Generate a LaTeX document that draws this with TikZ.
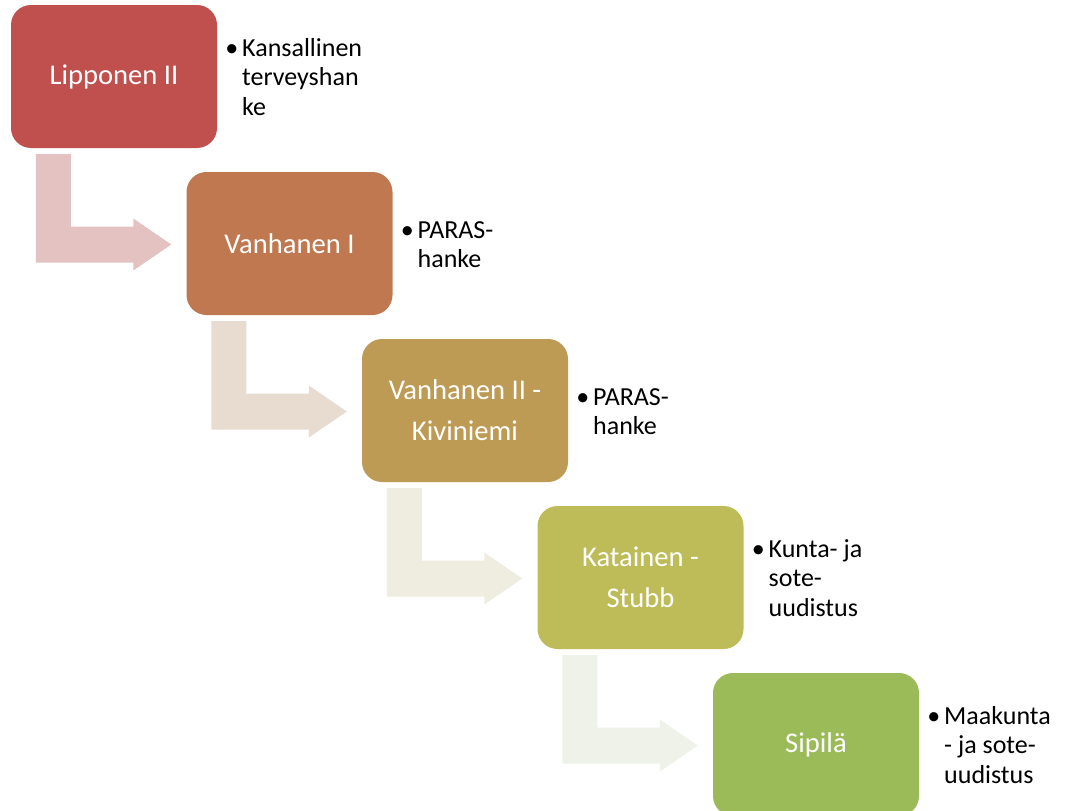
\documentclass[tikz,border=0pt]{standalone}
\usepackage{fontspec}
\setmainfont{Carlito}
\usetikzlibrary{calc}
\definecolor{c1}{HTML}{C0504D}
\definecolor{c2}{HTML}{BF7850}
\definecolor{c3}{HTML}{BE9B54}
\definecolor{c4}{HTML}{BDBC58}
\definecolor{c5}{HTML}{9BBB59}
\definecolor{a1}{HTML}{E4C2C2}
\definecolor{a2}{HTML}{E8DCD1}
\definecolor{a3}{HTML}{EEEDE0}
\definecolor{a4}{HTML}{EFF2E8}
\tikzset{
  govbox/.style={rounded corners=20pt, minimum width=206pt, minimum height=143pt,
    inner sep=0pt, text=white, align=center,
    font=\fontsize{28.6}{41}\selectfont},
  bullettext/.style={anchor=west, inner sep=0pt, align=left, text=black,
    font=\fontsize{26}{29.5}\selectfont},
}
\newcommand{\bul}{\llap{•\hspace{4pt}}}
\begin{document}
\begin{tikzpicture}[x=1pt,y=-1pt]
\useasboundingbox (0,0) rectangle (1074,811);
\fill[white] (0,0) rectangle (1074,811);
\clip (0,0) rectangle (1074,811);

\node[govbox, fill=c1] (b1) at (114,76.5) {\raisebox{-2pt}{Lipponen II}};
\node[govbox, fill=c2] (b2) at (289.5,243.5) {\raisebox{-2pt}{Vanhanen I}};
\node[govbox, fill=c3] (b3) at (465,410.5) {Vanhanen II -\\Kiviniemi};
\node[govbox, fill=c4] (b4) at (640.5,577.5) {Katainen -\\Stubb};
\node[govbox, fill=c5] (b5) at (816,744.5) {\raisebox{-2pt}{Sipilä}};

\node[bullettext] (t1) at (242,77) {\bul Kansallinen\\terveyshan\\ke};
\node[bullettext] (t2) at (417.5,244.5) {\bul PARAS-\\hanke};
\node[bullettext] (t3) at (593,411.5) {\bul PARAS-\\hanke};
\node[bullettext] (t4) at (768.5,578) {\bul Kunta- ja\\sote-\\uudistus};
\node[bullettext] (t5) at (944,745) {\bul Maakunta\\- ja sote-\\uudistus};

\foreach \p/\q/\c in {b1/b2/a1, b2/b3/a2, b3/b4/a3, b4/b5/a4}{
  \coordinate (s) at ($(\p.south west)+(25,6)$);
  \coordinate (t) at ($(\q.west)+(-15,1)$);
  \fill[\c] (s) -- ++(35,0) |- ($(t)+(-38,-18)$) -- ++(0,-8) -- (t)
    -- ($(t)+(-38,26)$) -- ++(0,-8) -| (s) -- cycle;
}
\end{tikzpicture}
\end{document}
